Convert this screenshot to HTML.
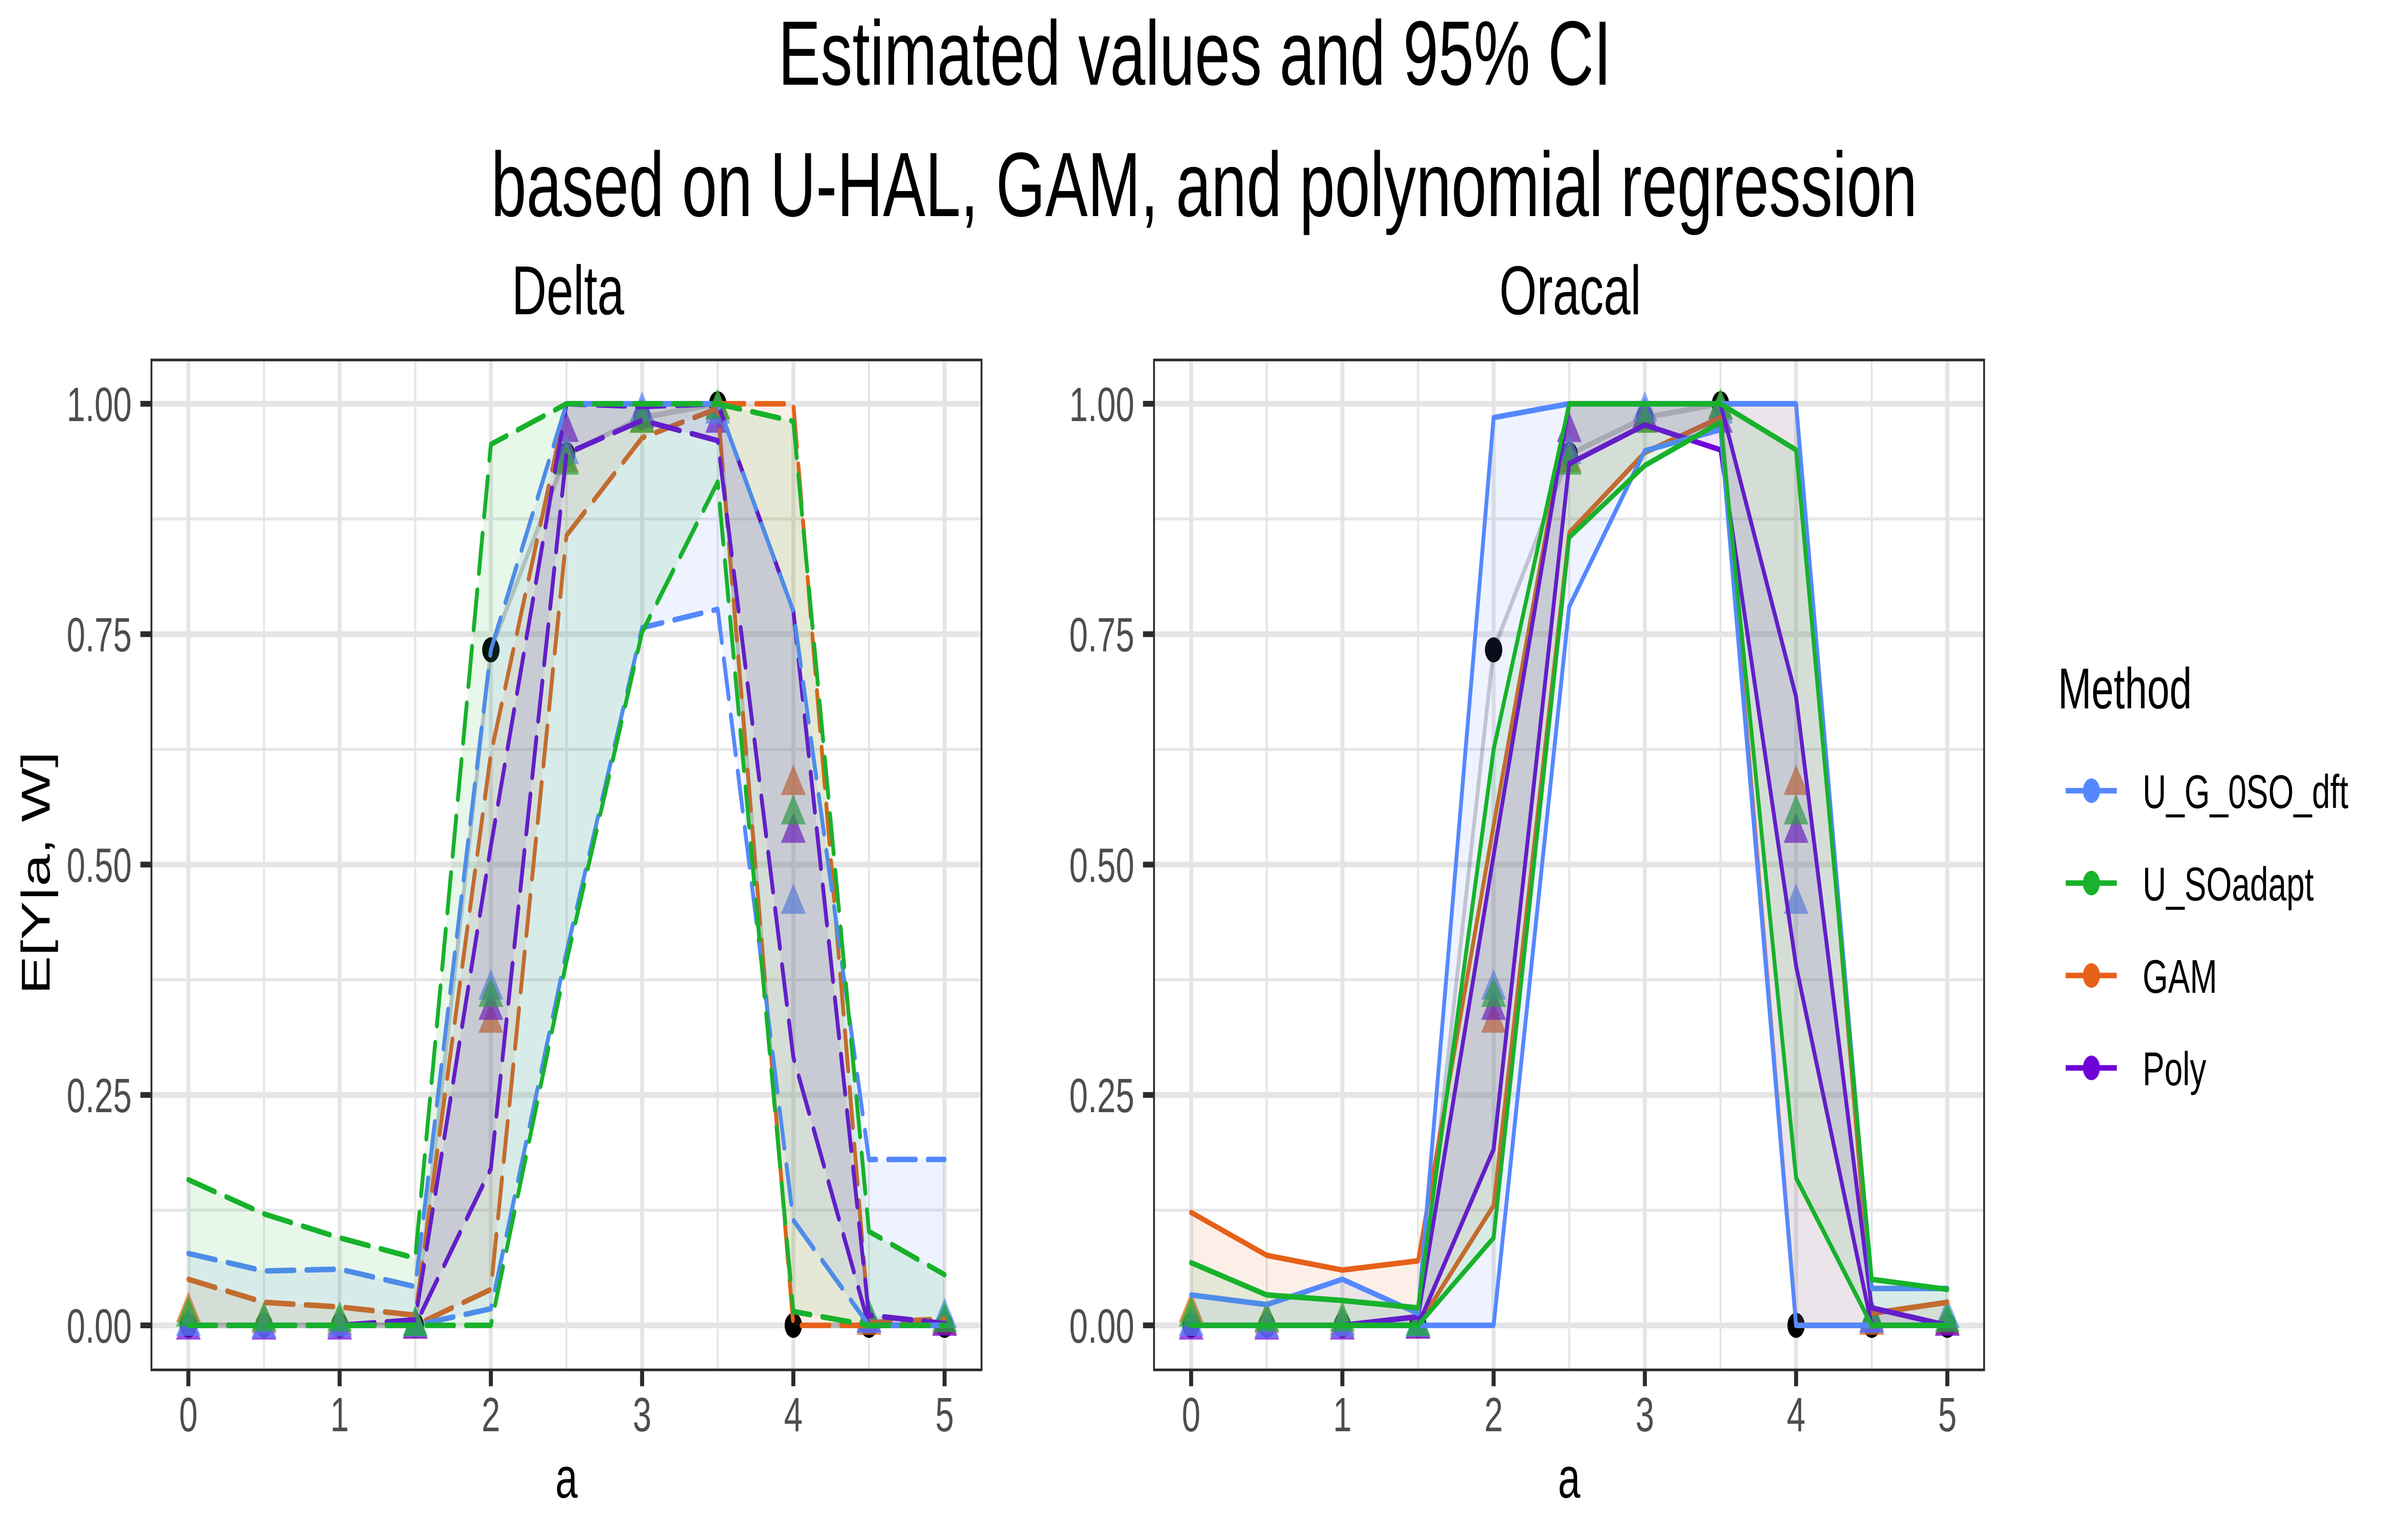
<!DOCTYPE html>
<html lang="en">
<head>
<meta charset="utf-8">
<title>Estimated values and 95% CI</title>
<style>
html,body{margin:0;padding:0;background:#fff;width:100%;height:100%;overflow:hidden}
svg{display:block;width:100vw;height:100vh}
text{font-family:"Liberation Sans",Arial,sans-serif}
</style>
</head>
<body>
<svg id="chart" xmlns="http://www.w3.org/2000/svg" viewBox="0 0 7200 3200" preserveAspectRatio="none">
  <rect x="0" y="0" width="7200" height="3200" fill="#ffffff"/>
  <text x="3574" y="176" font-size="190" text-anchor="middle" fill="#000">Estimated values and 95% CI</text>
  <text x="3602" y="449" font-size="190" text-anchor="middle" fill="#000">based on U-HAL, GAM, and polynomial regression</text>
  <text transform="translate(148,1814) rotate(-90)" font-size="120" text-anchor="middle" fill="#000">E[Y|a, W]</text>
  <g id="panels"></g>
  <g id="legend">
    <text x="6156" y="1472" font-size="120" fill="#000">Method</text>
  </g>
</svg>
<script>
// Shared axis values
const aValues = [0, 0.5, 1, 1.5, 2, 2.5, 3, 3.5, 4, 4.5, 5];
const xTickLabels = [0, 1, 2, 3, 4, 5];
const xMinorTicks = [0.5, 1.5, 2.5, 3.5, 4.5];
const yTickLabels = ['0.00', '0.25', '0.50', '0.75', '1.00'];
const yMinorTicks = [0.125, 0.375, 0.625, 0.875];

// True values (black points, grey line)
const trueValues = [0, 0, 0, 0, 0.733, 0.945, 0.985, 1, 0, 0, 0];

// Estimated values (triangles), same in both panels
const estBlue = [0.005, 0.003, 0.004, 0.004, 0.37, 0.951, 0.997, 0.995, 0.463, 0.008, 0.0136];
const estGreen = [0.015, 0.01, 0.01, 0.005, 0.362, 0.9395, 0.985, 1, 0.56, 0.013, 0.0092];
const estOrange = [0.02, 0.008, 0.006, 0.002, 0.334, 0.942, 0.985, 0.999, 0.592, 0.006, 0.0063];
const estPurple = [0.001, 0.001, 0.001, 0.002, 0.348, 0.975, 0.99, 0.985, 0.54, 0.009, 0.005];

// Delta panel confidence bands
const deltaBlueUpper = [0.078, 0.059, 0.061, 0.042, 0.733, 1, 1, 1, 0.775, 0.18, 0.18];
const deltaBlueLower = [0, 0, 0, 0, 0.018, 0.405, 0.757, 0.777, 0.114, 0, 0];
const deltaGreenUpper = [0.158, 0.121, 0.095, 0.073, 0.956, 1, 1, 1, 0.981, 0.102, 0.055];
const deltaGreenLower = [0, 0, 0, 0, 0, 0.395, 0.752, 0.915, 0.015, 0, 0];
const deltaOrangeUpper = [0.05, 0.025, 0.02, 0.011, 0.62, 1, 1, 1, 1, 0.003, 0.007];
const deltaOrangeLower = [0, 0, 0, 0, 0.039, 0.857, 0.963, 0.995, 0, 0, 0];
const deltaPurpleUpper = [0, 0, 0, 0.006, 0.52, 1, 0.997, 1, 0.775, 0.011, 0.002];
const deltaPurpleLower = [0, 0, 0, 0, 0.17, 0.946, 0.982, 0.96, 0.291, 0, 0];

// Oracal panel confidence bands
const oracalBlueUpper = [0.033, 0.0225, 0.05, 0.013, 0.985, 1, 1, 1, 1, 0.04, 0.04];
const oracalBlueLower = [0, 0, 0, 0, 0, 0.78, 0.949, 0.972, 0, 0, 0];
const oracalGreenUpper = [0.068, 0.033, 0.027, 0.019, 0.625, 1, 1, 1, 0.95, 0.05, 0.039];
const oracalGreenLower = [0, 0, 0, 0, 0.095, 0.855, 0.933, 0.98, 0.16, 0, 0];
const oracalOrangeUpper = [0.1225, 0.076, 0.06, 0.07, 0.5425, 1, 1, 1, 1, 0.013, 0.025];
const oracalOrangeLower = [0, 0, 0, 0, 0.13, 0.86, 0.947, 0.985, 0, 0, 0];
const oracalPurpleUpper = [0, 0, 0, 0.0094, 0.51, 1, 1, 1, 0.682, 0.019, 0];
const oracalPurpleLower = [0, 0, 0, 0, 0.191, 0.935, 0.977, 0.95, 0.39, 0, 0];

// Legend
const legendLabels = ['U_G_0SO_dft', 'U_SOadapt', 'GAM', 'Poly'];

const NS = 'http://www.w3.org/2000/svg';
const colors = { blue: '#5588FF', green: '#18B22C', orange: '#E6611A', purple: '#7000D8' };
const drawOrder = ['orange', 'purple', 'blue', 'green'];
const legendColors = [colors.blue, colors.green, colors.orange, colors.purple];
const estimates = { blue: estBlue, green: estGreen, orange: estOrange, purple: estPurple };
const LINE_W = 11.5;
const TRI_W = 74;
const TRI_H = 63;

const panelDefs = [
  { key: 'delta', title: 'Delta', left: 453, right: 2936, x0: 563.5, titleX: 1699, dash: '83 35.6',
    bands: { blue: [deltaBlueUpper, deltaBlueLower], green: [deltaGreenUpper, deltaGreenLower],
             orange: [deltaOrangeUpper, deltaOrangeLower], purple: [deltaPurpleUpper, deltaPurpleLower] } },
  { key: 'oracal', title: 'Oracal', left: 3452, right: 5935, x0: 3563, titleX: 4697, dash: null,
    bands: { blue: [oracalBlueUpper, oracalBlueLower], green: [oracalGreenUpper, oracalGreenLower],
             orange: [oracalOrangeUpper, oracalOrangeLower], purple: [oracalPurpleUpper, oracalPurpleLower] } }
];

const PANEL_TOP = 748;
const PANEL_BOTTOM = 2846.5;
const Y_ZERO = 2754;
const Y_ONE = 839;
const X_UNIT = 452.4;

function yScale(v) { return Y_ZERO - v * (Y_ZERO - Y_ONE); }
function xScale(panel, v) { return panel.x0 + v * X_UNIT; }

function mk(tag, attrs, parent) {
  const node = document.createElementNS(NS, tag);
  for (const k in attrs) node.setAttribute(k, attrs[k]);
  parent.appendChild(node);
  return node;
}

function pointsOf(panel, values) {
  return values.map(function (v, i) { return xScale(panel, aValues[i]).toFixed(1) + ',' + yScale(v).toFixed(1); });
}

const panelsRoot = document.getElementById('panels');

panelDefs.forEach(function (panel) {
  const g = mk('g', {}, panelsRoot);
  
  

  const title = mk('text', { x: panel.titleX, y: 653, 'font-size': 144, 'text-anchor': 'middle', fill: '#000' }, g);
  title.textContent = panel.title;
  
  

  // grid
  yMinorTicks.forEach(function (v) {
    const line = mk('line', { x1: panel.left, x2: panel.right, y1: yScale(v), y2: yScale(v), stroke: '#E5E5E5', 'stroke-width': 6 }, g);
    
    
  });
  xMinorTicks.forEach(function (v) {
    const line = mk('line', { x1: xScale(panel, v), x2: xScale(panel, v), y1: PANEL_TOP, y2: PANEL_BOTTOM, stroke: '#E5E5E5', 'stroke-width': 6 }, g);
    
    
  });
  yTickLabels.forEach(function (label) {
    const v = parseFloat(label);
    const line = mk('line', { x1: panel.left, x2: panel.right, y1: yScale(v), y2: yScale(v), stroke: '#E5E5E5', 'stroke-width': 12 }, g);
    
    
  });
  xTickLabels.forEach(function (v) {
    const line = mk('line', { x1: xScale(panel, v), x2: xScale(panel, v), y1: PANEL_TOP, y2: PANEL_BOTTOM, stroke: '#E5E5E5', 'stroke-width': 12 }, g);
    
    
  });

  // true values
  aValues.forEach(function (a, i) {
    const dot = mk('circle', { cx: xScale(panel, a), cy: yScale(trueValues[i]), r: 26, fill: '#000' }, g);
    
    
  });
  const truth = mk('polyline', { points: pointsOf(panel, trueValues).join(' '), fill: 'none', stroke: '#000', 'stroke-opacity': 0.2, 'stroke-width': LINE_W, 'stroke-linejoin': 'round' }, g);
  
  

  // estimate triangles
  drawOrder.forEach(function (method) {
    estimates[method].forEach(function (v, i) {
      const cx = xScale(panel, aValues[i]);
      const cy = yScale(v);
      const pts = [(cx - TRI_W / 2) + ',' + (cy + TRI_H / 2), (cx + TRI_W / 2) + ',' + (cy + TRI_H / 2), cx + ',' + (cy - TRI_H / 2)].join(' ');
      const tri = mk('polygon', { points: pts, fill: colors[method], 'fill-opacity': 0.7 }, g);
      
      
    });
  });

  // lines and ribbons
  drawOrder.forEach(function (method) {
    const upper = panel.bands[method][0];
    const lower = panel.bands[method][1];
    const upperPts = pointsOf(panel, upper);
    const lowerPts = pointsOf(panel, lower);
    const lineAttrs = { fill: 'none', stroke: colors[method], 'stroke-width': LINE_W, 'stroke-linejoin': 'round', 'stroke-linecap': 'round' };
    if (panel.dash) lineAttrs['stroke-dasharray'] = panel.dash;

    const up = mk('polyline', Object.assign({ points: upperPts.join(' ') }, lineAttrs), g);
    
    

    const lo = mk('polyline', Object.assign({ points: lowerPts.join(' ') }, lineAttrs), g);
    
    

    const band = mk('polygon', { points: upperPts.concat(lowerPts.slice().reverse()).join(' '), fill: colors[method], 'fill-opacity': 0.1 }, g);
    
    
  });

  // border
  const border = mk('rect', { x: panel.left, y: PANEL_TOP, width: panel.right - panel.left, height: PANEL_BOTTOM - PANEL_TOP, fill: 'none', stroke: '#2B2B2B', 'stroke-width': 5.5 }, g);
  
  

  // y axis
  yTickLabels.forEach(function (label) {
    const v = parseFloat(label);
    const tick = mk('line', { x1: panel.left - 33, x2: panel.left, y1: yScale(v), y2: yScale(v), stroke: '#2B2B2B', 'stroke-width': 12 }, g);
    
    
    const txt = mk('text', { x: panel.left - 59, y: yScale(v) + 36, 'font-size': 100, 'text-anchor': 'end', fill: '#4D4D4D' }, g);
    txt.textContent = label;
    
    
  });

  // x axis
  xTickLabels.forEach(function (v) {
    const tick = mk('line', { x1: xScale(panel, v), x2: xScale(panel, v), y1: PANEL_BOTTOM, y2: PANEL_BOTTOM + 34, stroke: '#2B2B2B', 'stroke-width': 12 }, g);
    
    
    const txt = mk('text', { x: xScale(panel, v), y: 2974, 'font-size': 100, 'text-anchor': 'middle', fill: '#4D4D4D' }, g);
    txt.textContent = String(v);
    
    
  });

  const xTitle = mk('text', { x: (panel.left + panel.right) / 2, y: 3112, 'font-size': 120, 'text-anchor': 'middle', fill: '#000' }, g);
  xTitle.textContent = 'a';
  
  
});

// legend
const legendRoot = document.getElementById('legend');
legendLabels.forEach(function (label, i) {
  const rowY = 1643 + i * 192;
  const entry = mk('g', {}, legendRoot);
  
  

  const line = mk('line', { x1: 6179, x2: 6332, y1: rowY, y2: rowY, stroke: legendColors[i], 'stroke-width': 11.5 }, entry);
  
  

  const dot = mk('circle', { cx: 6256, cy: rowY, r: 25.5, fill: legendColors[i] }, entry);
  
  

  const txt = mk('text', { x: 6409, y: rowY + 36, 'font-size': 98, fill: '#000' }, entry);
  txt.textContent = label;
  
  
});
</script>
</body>
</html>
